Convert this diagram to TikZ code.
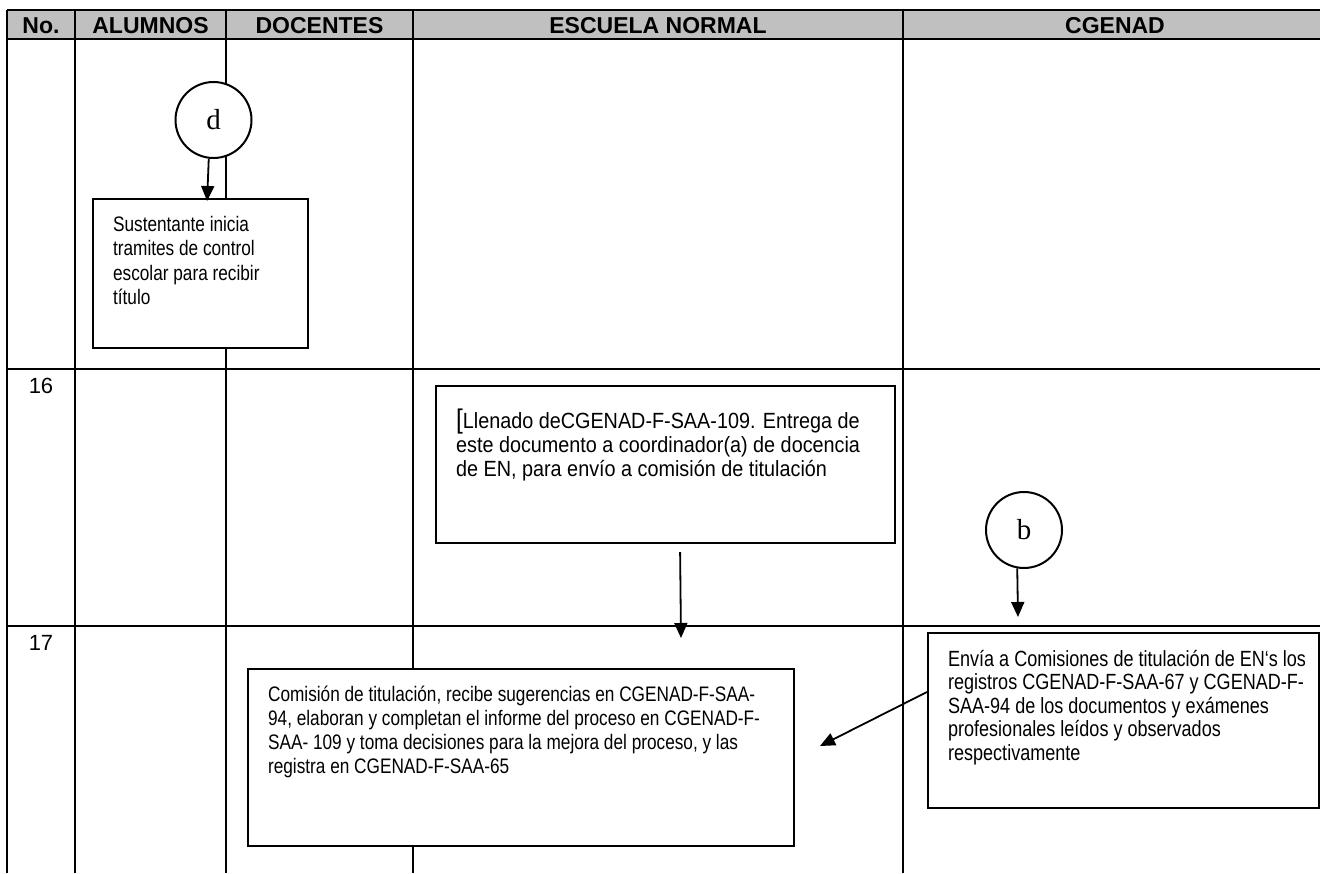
\documentclass[tikz,border=0pt]{standalone}
\usepackage{fontspec}
\setmainfont{Liberation Sans}
\newfontfamily\narrowfont[FakeStretch=0.82]{Liberation Sans}
\newfontfamily\midfont[FakeStretch=0.9]{Liberation Sans}
\newfontfamily\letterfont{Liberation Serif}
\usetikzlibrary{arrows.meta,calc}
\definecolor{hdrgray}{RGB}{192,192,192}
\newcommand{\fline}[1]{\hbox to\hsize{#1\hss}}
\newcommand{\flowtext}[4]{\parbox[t][#2][t]{#1}{#3#4}}
\begin{document}
\begin{tikzpicture}[x=1pt,y=-1pt,
  grid/.style={line width=1.5pt},
  hdr/.style={font=\fontsize{23}{26}\selectfont\bfseries, inner sep=0pt, anchor=base},
  num/.style={font=\fontsize{22}{24}\selectfont, inner sep=0pt, anchor=base},
  flowbox/.style={draw, line width=2.2pt, fill=white, inner xsep=20pt, inner ysep=17pt, anchor=north west},
  conn/.style={draw, line width=2pt, fill=white, circle, minimum size=76pt, inner sep=0pt, font=\letterfont\fontsize{29}{30}\selectfont},
  arr/.style={line width=1.8pt, -{Triangle[length=15pt,width=13pt]}}
]
\useasboundingbox (0,0) rectangle (1320,873);
\fill[white] (0,0) rectangle (1320,873);
% header band
\fill[hdrgray] (7,10) rectangle (1320,39);
% grid
\foreach \yy in {10,39,369,626} \draw[grid] (7,\yy) -- (1320,\yy);
\foreach \xx in {7,75,226,413,903} \draw[grid] (\xx,10) -- (\xx,873);
% header texts
\node[hdr] (hno) at (41,33) {No.};
\node[hdr] (hal) at (150.5,33) {ALUMNOS};
\node[hdr] (hdo) at (319.5,33) {DOCENTES};
\node[hdr] (hes) at (658,33) {ESCUELA NORMAL};
\node[hdr] (hcg) at (1115,33) {CGENAD};
% row numbers
\node[num] (n16) at (41,393) {16};
\node[num] (n17) at (41,650) {17};
% connectors (circles)
\node[conn] (d) at (213.5,120) {d};
\node[conn] (b) at (1024,530) {b};
% boxes
\node[flowbox] (s1) at (92,198)
 {\flowtext{175pt}{115pt}{\narrowfont\fontsize{21}{24.5}\selectfont}{\fline{Sustentante inicia}\fline{tramites de control}\fline{escolar para recibir}\fline{título}}};
\node[flowbox, inner ysep=23pt] (b16) at (435,385)
 {\flowtext{419pt}{111pt}{\midfont\fontsize{22}{24}\selectfont}{\fline{{\fontsize{27}{27}\selectfont[}Llenado deCGENAD-F-SAA-109. Entrega de}\fline{este documento a coordinador(a) de docencia}\fline{de EN, para envío a comisión de titulación}}};
\node[flowbox] (env) at (927,632)
 {\flowtext{351pt}{141pt}{\narrowfont\fontsize{22}{23.5}\selectfont}{\fline{Envía a Comisiones de titulación de EN‘s los}\fline{registros CGENAD-F-SAA-67 y CGENAD-F-}\fline{SAA-94 de los documentos y exámenes}\fline{profesionales leídos y observados}\fline{respectivamente}}};
\node[flowbox] (com) at (247,668)
 {\flowtext{506pt}{143pt}{\narrowfont\fontsize{21}{24}\selectfont}{\fline{Comisión de titulación, recibe sugerencias en CGENAD-F-SAA-}\fline{94, elaboran y completan el informe del proceso en CGENAD-F-}\fline{SAA- 109 y toma decisiones para la mejora del proceso, y las}\fline{registra en CGENAD-F-SAA-65}}};
% arrows
\coordinate (t16) at (681,638);
\coordinate (tb) at (1018,617);
\coordinate (tc) at (820,746);
\draw[arr] (d.263) -- ($(s1.north)+(6.5,3)$);
\draw[arr] ($(b16.south)+(14.5,8)$) -- (t16);
\draw[arr] (b.260) -- (tb);
\draw[arr] ($(env.north west)+(0,60)$) -- (tc);
\end{tikzpicture}
\end{document}
